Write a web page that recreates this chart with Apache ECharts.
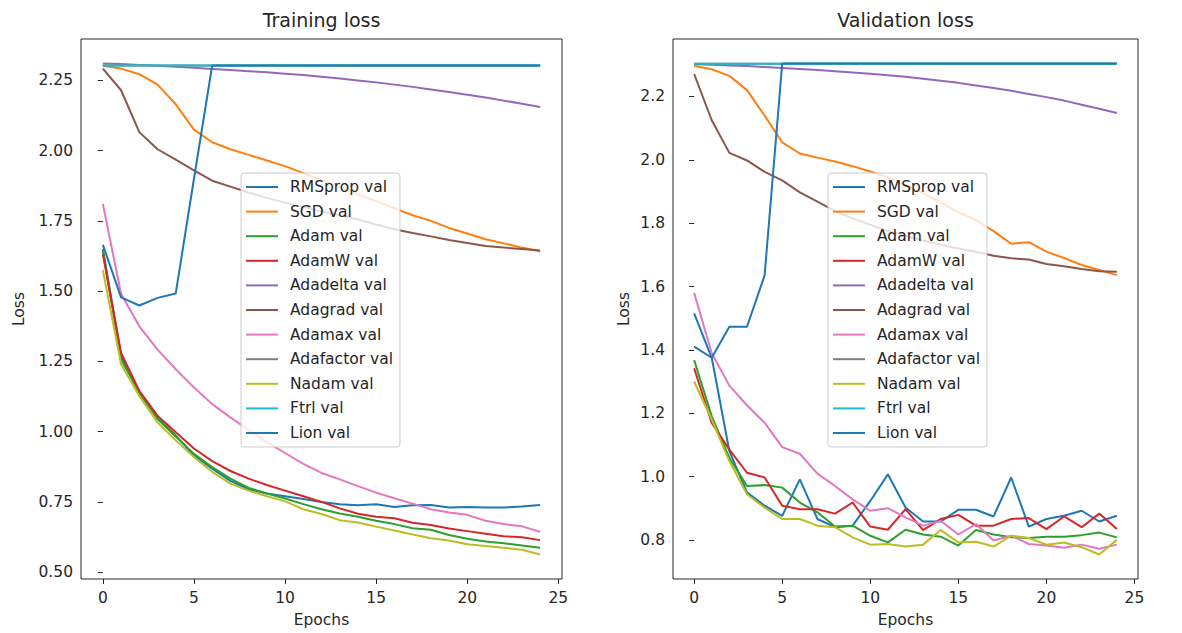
<!DOCTYPE html>
<html>
<head>
<meta charset="utf-8">
<script src="https://cdn.jsdelivr.net/npm/echarts@6/dist/echarts.min.js"></script>
<style>
html,body{margin:0;padding:0;background:#fff;}
#chart{width:1182px;height:633px;}
</style>
</head>
<body>
<div id="chart"></div>
<script>
// ---------- data ----------
const epochs = [0,1,2,3,4,5,6,7,8,9,10,11,12,13,14,15,16,17,18,19,20,21,22,23,24];
const seriesNames = ['RMSprop val','SGD val','Adam val','AdamW val','Adadelta val','Adagrad val','Adamax val','Adafactor val','Nadam val','Ftrl val','Lion val'];
const xTicks = [0,5,10,15,20,25];
const trainTicks = [0.50,0.75,1.00,1.25,1.50,1.75,2.00,2.25];
const valTicks = [0.8,1.0,1.2,1.4,1.6,1.8,2.0,2.2];

// Training loss (left panel)
const trRMSprop  = [1.650,1.270,1.139,1.049,0.986,0.916,0.868,0.825,0.795,0.780,0.770,0.760,0.750,0.742,0.738,0.742,0.732,0.738,0.739,0.730,0.732,0.730,0.730,0.734,0.739];
const trSGD      = [2.302,2.292,2.272,2.235,2.165,2.075,2.030,2.005,1.985,1.965,1.945,1.920,1.895,1.870,1.845,1.820,1.795,1.770,1.750,1.725,1.705,1.685,1.670,1.655,1.642];
const trAdam     = [1.645,1.257,1.139,1.045,0.983,0.921,0.874,0.833,0.800,0.780,0.762,0.742,0.724,0.709,0.697,0.683,0.671,0.656,0.651,0.632,0.619,0.609,0.603,0.595,0.587];
const trAdamW    = [1.632,1.280,1.145,1.057,0.998,0.940,0.895,0.860,0.833,0.810,0.790,0.770,0.750,0.727,0.708,0.697,0.692,0.676,0.668,0.655,0.646,0.637,0.628,0.624,0.614];
const trAdadelta = [2.310,2.308,2.305,2.302,2.299,2.295,2.291,2.287,2.283,2.279,2.274,2.269,2.263,2.257,2.250,2.243,2.235,2.227,2.218,2.209,2.199,2.189,2.178,2.167,2.155];
const trAdagrad  = [2.292,2.215,2.066,2.005,1.968,1.930,1.893,1.872,1.851,1.832,1.815,1.800,1.783,1.770,1.755,1.737,1.720,1.707,1.695,1.682,1.671,1.661,1.655,1.650,1.645];
const trAdamax   = [1.810,1.490,1.375,1.292,1.222,1.157,1.098,1.051,1.006,0.963,0.924,0.885,0.853,0.830,0.806,0.783,0.763,0.744,0.724,0.712,0.704,0.683,0.671,0.663,0.644];
const trAdafactor= [2.303,2.303,2.303,2.303,2.303,2.303,2.303,2.303,2.303,2.303,2.303,2.303,2.303,2.303,2.303,2.303,2.303,2.303,2.303,2.303,2.303,2.303,2.303,2.303,2.303];
const trNadam    = [1.575,1.240,1.127,1.033,0.969,0.910,0.857,0.815,0.790,0.770,0.752,0.724,0.707,0.685,0.677,0.662,0.648,0.634,0.621,0.613,0.599,0.593,0.587,0.580,0.563];
const trFtrl     = [2.303,2.303,2.303,2.303,2.303,2.303,2.303,2.303,2.303,2.303,2.303,2.303,2.303,2.303,2.303,2.303,2.303,2.303,2.303,2.303,2.303,2.303,2.303,2.303,2.303];
const trLion     = [1.665,1.478,1.449,1.476,1.492,1.900,2.303,2.303,2.303,2.303,2.303,2.303,2.303,2.303,2.303,2.303,2.303,2.303,2.303,2.303,2.303,2.303,2.303,2.303,2.303];

// Validation loss (right panel)
const vaRMSprop  = [1.515,1.375,1.080,0.950,0.908,0.876,0.991,0.866,0.840,0.845,0.923,1.007,0.902,0.858,0.858,0.895,0.895,0.874,0.997,0.842,0.866,0.876,0.892,0.858,0.876];
const vaSGD      = [2.296,2.286,2.265,2.220,2.140,2.055,2.020,2.007,1.995,1.980,1.963,1.945,1.920,1.895,1.865,1.835,1.810,1.775,1.735,1.740,1.710,1.690,1.668,1.652,1.636];
const vaAdam     = [1.368,1.190,1.059,0.970,0.973,0.965,0.918,0.887,0.842,0.845,0.813,0.792,0.832,0.817,0.810,0.782,0.831,0.817,0.808,0.806,0.810,0.810,0.815,0.823,0.808];
const vaAdamW    = [1.342,1.169,1.085,1.012,0.997,0.908,0.897,0.897,0.883,0.918,0.842,0.832,0.897,0.831,0.866,0.879,0.845,0.845,0.866,0.869,0.834,0.874,0.840,0.883,0.834];
const vaAdadelta = [2.302,2.300,2.298,2.296,2.293,2.290,2.287,2.284,2.280,2.276,2.272,2.267,2.262,2.256,2.250,2.243,2.235,2.227,2.218,2.208,2.198,2.187,2.174,2.161,2.148];
const vaAdagrad  = [2.271,2.125,2.022,1.998,1.962,1.935,1.897,1.868,1.838,1.815,1.795,1.775,1.760,1.745,1.732,1.720,1.710,1.697,1.689,1.685,1.671,1.664,1.655,1.648,1.647];
const vaAdamax   = [1.580,1.389,1.287,1.225,1.170,1.093,1.072,1.009,0.970,0.928,0.892,0.900,0.871,0.845,0.860,0.817,0.850,0.798,0.813,0.787,0.782,0.775,0.785,0.772,0.785];
const vaAdafactor= [2.303,2.303,2.303,2.303,2.303,2.303,2.303,2.303,2.303,2.303,2.303,2.303,2.303,2.303,2.303,2.303,2.303,2.303,2.303,2.303,2.303,2.303,2.303,2.303,2.303];
const vaNadam    = [1.300,1.180,1.049,0.944,0.902,0.866,0.866,0.845,0.840,0.808,0.785,0.787,0.779,0.785,0.831,0.792,0.794,0.779,0.813,0.806,0.785,0.792,0.777,0.754,0.800];
const vaFtrl     = [2.303,2.303,2.303,2.303,2.303,2.303,2.303,2.303,2.303,2.303,2.303,2.303,2.303,2.303,2.303,2.303,2.303,2.303,2.303,2.303,2.303,2.303,2.303,2.303,2.303];
const vaLion     = [1.410,1.375,1.473,1.473,1.635,2.304,2.304,2.304,2.304,2.304,2.304,2.304,2.304,2.304,2.304,2.304,2.304,2.304,2.304,2.304,2.304,2.304,2.304,2.304,2.304];

const trainSets = [trRMSprop,trSGD,trAdam,trAdamW,trAdadelta,trAdagrad,trAdamax,trAdafactor,trNadam,trFtrl,trLion];
const valSets   = [vaRMSprop,vaSGD,vaAdam,vaAdamW,vaAdadelta,vaAdagrad,vaAdamax,vaAdafactor,vaNadam,vaFtrl,vaLion];

// ---------- styling ----------
const colors = ['#1f77b4','#ff7f0e','#2ca02c','#d62728','#9467bd','#8c564b','#e377c2','#7f7f7f','#bcbd22','#17becf','#1f77b4'];
const FONT = 'DejaVu Sans';
const INK = '#262626';

function limits(sets) {
  let mn = Infinity, mx = -Infinity;
  sets.forEach(a => a.forEach(v => { if (v < mn) mn = v; if (v > mx) mx = v; }));
  const m = (mx - mn) * 0.05;
  return [mn - m, mx + m];
}
const xSpan = epochs[epochs.length-1] - epochs[0];
const xMin = epochs[0] - 0.05 * xSpan;
const xMax = epochs[epochs.length-1] + 0.05 * xSpan;
const trLim = limits(trainSets);
const vaLim = limits(valSets);

const grids = [
  {left: 81, top: 39, width: 481, height: 544, show: true, borderColor: INK, borderWidth: 1, backgroundColor: 'transparent'},
  {left: 673, top: 39, width: 465, height: 544, show: true, borderColor: INK, borderWidth: 1, backgroundColor: 'transparent'}
];

function xAxisCfg(i) {
  return {
    type: 'value', gridIndex: i, min: xMin, max: xMax,
    name: 'Epochs', nameLocation: 'middle', nameGap: 33,
    nameTextStyle: {fontFamily: FONT, fontSize: 15.5, color: INK},
    axisLine: {show: false},
    splitLine: {show: false},
    axisTick: {show: true, inside: false, length: 5, customValues: xTicks, lineStyle: {color: INK, width: 1}},
    axisLabel: {show: true, margin: 11, customValues: xTicks, fontFamily: FONT, fontSize: 15.5, color: INK, formatter: v => String(v)}
  };
}
function yAxisCfg(i, lim, ticks, dec, gap) {
  return {
    type: 'value', gridIndex: i, min: lim[0], max: lim[1],
    name: 'Loss', nameLocation: 'middle', nameGap: gap, nameRotate: 90,
    nameTextStyle: {fontFamily: FONT, fontSize: 15.5, color: INK},
    axisLine: {show: false},
    splitLine: {show: false},
    axisTick: {show: true, inside: false, length: 5, customValues: ticks, lineStyle: {color: INK, width: 1}},
    axisLabel: {show: true, margin: 8, customValues: ticks, fontFamily: FONT, fontSize: 15.5, color: INK, formatter: v => v.toFixed(dec)}
  };
}

const series = [];
[trainSets, valSets].forEach((sets, gi) => {
  sets.forEach((vals, k) => {
    series.push({
      type: 'line', name: seriesNames[k], xAxisIndex: gi, yAxisIndex: gi,
      data: epochs.map((e, j) => [e, vals[j]]),
      showSymbol: false, symbol: 'none', color: colors[k],
      lineStyle: {width: 2, color: colors[k]},
      emphasis: {disabled: true}, silent: true, animation: false, z: 2 + k
    });
  });
});

function legendCfg(left) {
  return {
    show: true, data: seriesNames, orient: 'vertical', left: left, top: 173,
    icon: 'path://M0,0H32V2H0Z', itemWidth: 32, itemHeight: 2.4, itemGap: 6.6,
    backgroundColor: 'rgba(255,255,255,0.8)', borderColor: '#cccccc', borderWidth: 1, borderRadius: 3,
    padding: [5, 7, 5, 5],
    textStyle: {fontFamily: FONT, fontSize: 15.5, lineHeight: 18, color: INK, padding: [0, 0, 0, 7]},
    selectedMode: false, z: 10
  };
}

const option = {
  backgroundColor: '#ffffff',
  animation: false,
  title: [
    {text: 'Training loss', left: 321.5, top: 10, textAlign: 'center', padding: 0,
     textStyle: {fontFamily: FONT, fontSize: 19, fontWeight: 'normal', color: INK}},
    {text: 'Validation loss', left: 905.5, top: 10, textAlign: 'center', padding: 0,
     textStyle: {fontFamily: FONT, fontSize: 19, fontWeight: 'normal', color: INK}}
  ],
  grid: grids,
  xAxis: [xAxisCfg(0), xAxisCfg(1)],
  yAxis: [yAxisCfg(0, trLim, trainTicks, 2, 54), yAxisCfg(1, vaLim, valTicks, 1, 41)],
  legend: [legendCfg(241), legendCfg(828)],
  series: series
};

const chart = echarts.init(document.getElementById('chart'), null, {renderer: 'svg', width: 1182, height: 633});
chart.setOption(option);
</script>
</body>
</html>
